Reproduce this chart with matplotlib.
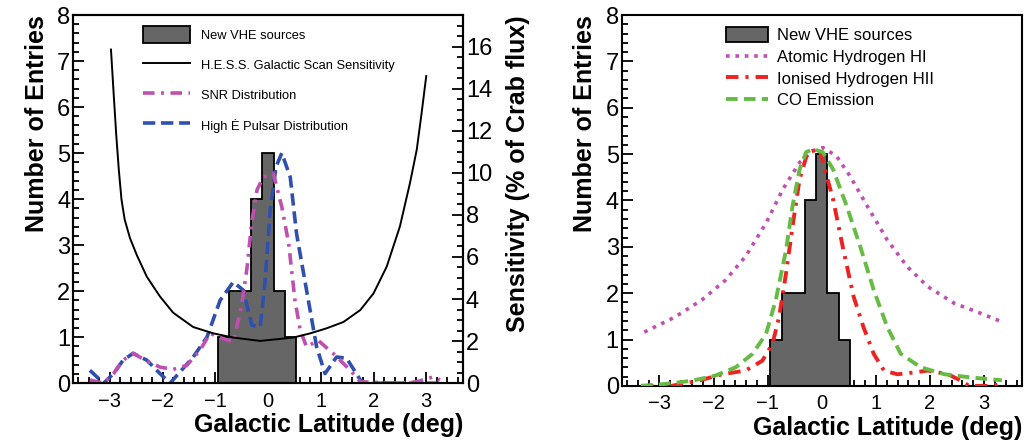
import matplotlib
matplotlib.use('Agg')
import matplotlib.pyplot as plt
import numpy as np
from matplotlib.ticker import MultipleLocator
from matplotlib.patches import Patch
from matplotlib.lines import Line2D

plt.rcParams['font.family'] = ['Liberation Sans', 'DejaVu Sans']

# histogram of the new VHE sources (33 bins between -3.5 and 3.5 deg)
bin_edges = np.linspace(-3.5, 3.5, 34)
counts = [0]*12 + [1, 2, 2, 4, 5, 2, 1] + [0]*14

# H.E.S.S. scan sensitivity (% Crab)
sens_b = [-2.98, -2.93, -2.88, -2.83, -2.78, -2.72, -2.62, -2.49, -2.3, -2.05, -1.8, -1.42,
          -1.04, -0.66, -0.15, 0.48, 0.8, 1.11, 1.43, 1.75, 2.0, 2.25, 2.5, 2.69, 2.82,
          2.91, 3.0]
sens_val = [15.86, 13.8, 11.8, 10.1, 8.72, 7.78, 6.9, 6.09, 5.06, 4.12, 3.35, 2.67,
            2.37, 2.17, 2.01, 2.17, 2.37, 2.61, 2.91, 3.48, 4.27, 5.54, 7.45, 9.5, 11.1,
            12.8, 14.6]

# SNR distribution
snr_b = [-3.38, -3.12, -2.93, -2.75, -2.56, -2.3, -2.05, -1.8, -1.54, -1.29, -1.1, -0.85,
         -0.66, -0.5, -0.4, -0.31, -0.21, -0.09, 0.1, 0.26, 0.39, 0.51, 0.61, 0.73, 0.95,
         1.24, 1.56, 1.75, 2.5, 2.82, 3.14, 3.26]
snr_n = [0.07, 0.0, 0.21, 0.5, 0.65, 0.48, 0.35, 0.3, 0.39, 0.72, 1.08, 0.97,
         0.9, 1.7, 2.5, 3.5, 4.2, 4.48, 4.56, 3.83, 3.04, 1.8, 1.15, 0.79, 0.93,
         0.64, 0.28, 0.03, 0.0, 0.03, 0.14, 0.07]

# high Edot pulsar distribution
psr_b = [-3.38, -3.12, -2.93, -2.75, -2.56, -2.3, -2.05, -1.86, -1.42, -1.16, -0.91, -0.66,
         -0.47, -0.31, -0.15, -0.06, 0.04, 0.15, 0.26, 0.42, 0.54, 0.73, 0.92, 1.08, 1.3,
         1.49, 1.75, 1.85, 3.3]
psr_n = [0.28, 0.0, 0.21, 0.5, 0.65, 0.5, 0.21, 0.0, 0.57, 1.0, 1.8, 2.2,
         2.02, 1.26, 1.22, 2.17, 3.76, 4.7, 5.0, 4.48, 3.25, 2.02, 0.79, 0.21, 0.57,
         0.54, 0.07, 0.0, 0.0]

# right panel: gas tracers
hi_b = [-3.28, -2.72, -2.22, -1.78, -1.41, -1.03, -0.72, -0.41, -0.16, 0.02, 0.27, 0.52,
        0.84, 1.21, 1.58, 1.96, 2.45, 2.95, 3.33]
hi_n = [1.16, 1.48, 1.85, 2.28, 2.79, 3.51, 4.24, 4.82, 5.07, 5.14, 4.96, 4.53,
        3.88, 3.15, 2.57, 2.14, 1.78, 1.56, 1.38]

hii_b = [-3.34, -2.78, -2.28, -1.84, -1.41, -1.1, -0.91, -0.79, -0.66, -0.54, -0.41, -0.26,
         -0.04, 0.09, 0.21, 0.4, 0.59, 0.77, 0.96, 1.15, 1.4, 1.71, 1.96, 2.33, 2.58, 2.72,
         3.14, 3.33]
hii_n = [0.0, 0.0, 0.11, 0.25, 0.33, 0.54, 0.91, 1.48, 2.43, 3.44, 4.46, 5.04,
         5.11, 4.53, 4.02, 2.93, 1.92, 1.27, 0.69, 0.33, 0.25, 0.29, 0.33, 0.25, 0.11, 0.0,
         0.0, 0.04]

co_b = [-3.34, -2.9, -2.4, -1.97, -1.59, -1.28, -1.03, -0.85, -0.66, -0.54, -0.41, -0.29,
        -0.16, 0.02, 0.21, 0.46, 0.71, 0.96, 1.21, 1.46, 1.83, 2.27, 2.77, 3.33]
co_n = [0.0, 0.04, 0.11, 0.22, 0.4, 0.69, 1.12, 1.85, 2.93, 3.88, 4.67, 5.04,
        5.11, 5.04, 4.67, 3.88, 3.01, 2.07, 1.27, 0.69, 0.4, 0.25, 0.18, 0.12]

magenta = '#c050b0'
blue = '#3050b0'
red = '#ee2222'
green = '#66bb44'
grey = '#666666'


def style(ax):
    ax.set_xlim(-3.7, 3.7)
    ax.set_ylim(0, 8)
    ax.xaxis.set_major_locator(MultipleLocator(1))
    ax.xaxis.set_minor_locator(MultipleLocator(0.2))
    ax.yaxis.set_major_locator(MultipleLocator(1))
    ax.yaxis.set_minor_locator(MultipleLocator(0.2))
    ax.tick_params(which='both', direction='in', top=False, right=False, width=1.3)
    ax.tick_params(which='major', length=8)
    ax.tick_params(which='minor', length=4)
    ax.tick_params(axis='x', labelsize=14.5, pad=6)
    ax.tick_params(axis='y', labelsize=17, pad=2)
    for s in ax.spines.values():
        s.set_linewidth(1.5)
    ax.set_xlabel('Galactic Latitude (deg)', loc='right', fontsize=18, fontweight='bold', labelpad=2)
    ax.set_ylabel('Number of Entries', loc='top', fontsize=18, fontweight='bold', labelpad=6)


fig = plt.figure(figsize=(10.24, 4.42), dpi=100)
axL = fig.add_axes([0.0713, 0.133, 0.381, 0.833])
axR = fig.add_axes([0.607, 0.127, 0.391, 0.839])

# ---- left panel
style(axL)
axL.stairs(counts, bin_edges, fill=True, facecolor=grey, edgecolor='black', linewidth=1.3, zorder=2)
axL.plot(psr_b, psr_n, color=blue, lw=2.6, dashes=(3.4, 1.6), zorder=4)
axL.plot(snr_b, snr_n, color=magenta, lw=2.6, dashes=(3.2, 1.8, 0.8, 1.8), zorder=4)

ax2 = axL.twinx()
ax2.set_ylim(0, 17.5)
ax2.yaxis.set_major_locator(MultipleLocator(2))
ax2.yaxis.set_minor_locator(MultipleLocator(0.5))
ax2.tick_params(which='both', direction='in', width=1.3, labelsize=17, pad=2)
ax2.tick_params(which='major', length=8)
ax2.tick_params(which='minor', length=4)
ax2.plot(sens_b, sens_val, color='black', lw=1.4)
ax2.set_ylabel('Sensitivity (% of Crab flux)', loc='top', fontsize=18, fontweight='bold', labelpad=10)
for s in ax2.spines.values():
    s.set_linewidth(1.5)

hL = [Patch(facecolor=grey, edgecolor='black', linewidth=1.3),
      Line2D([], [], color='black', lw=1.4),
      Line2D([], [], color=magenta, lw=2.6, dashes=(3.2, 1.8, 0.8, 1.8)),
      Line2D([], [], color=blue, lw=2.6, dashes=(3.4, 1.6))]
labL = ['New VHE sources', 'H.E.S.S. Galactic Scan Sensitivity', 'SNR Distribution',
        'High Ė Pulsar Distribution']
ax2.legend(hL, labL, loc='upper left', bbox_to_anchor=(0.165, 0.985), frameon=False,
           fontsize=9.3, handlelength=3.7, handleheight=1.7, handletextpad=0.8,
           labelspacing=1.0, borderaxespad=0)

# ---- right panel
style(axR)
axR.stairs(counts, bin_edges, fill=True, facecolor=grey, edgecolor='black', linewidth=1.3, zorder=2)
axR.plot(hi_b, hi_n, color=magenta, lw=2.6, dashes=(1.0, 1.6), zorder=4)
axR.plot(hii_b, hii_n, color=red, lw=2.8, dashes=(3.2, 1.8, 0.8, 1.8), zorder=4)
axR.plot(co_b, co_n, color=green, lw=2.8, dashes=(3.0, 1.6), zorder=4)

hR = [Patch(facecolor=grey, edgecolor='black', linewidth=1.3),
      Line2D([], [], color=magenta, lw=2.6, dashes=(1.0, 1.6)),
      Line2D([], [], color=red, lw=2.8, dashes=(3.2, 1.8, 0.8, 1.8)),
      Line2D([], [], color=green, lw=2.8, dashes=(3.0, 1.6))]
labR = ['New VHE sources', 'Atomic Hydrogen HI', 'Ionised Hydrogen HII', 'CO Emission']
axR.legend(hR, labR, loc='upper left', bbox_to_anchor=(0.245, 0.985), frameon=False,
           fontsize=12, handlelength=2.5, handleheight=1.0, handletextpad=0.55,
           labelspacing=0.33, borderaxespad=0)

fig.savefig('out.png', dpi=100)
